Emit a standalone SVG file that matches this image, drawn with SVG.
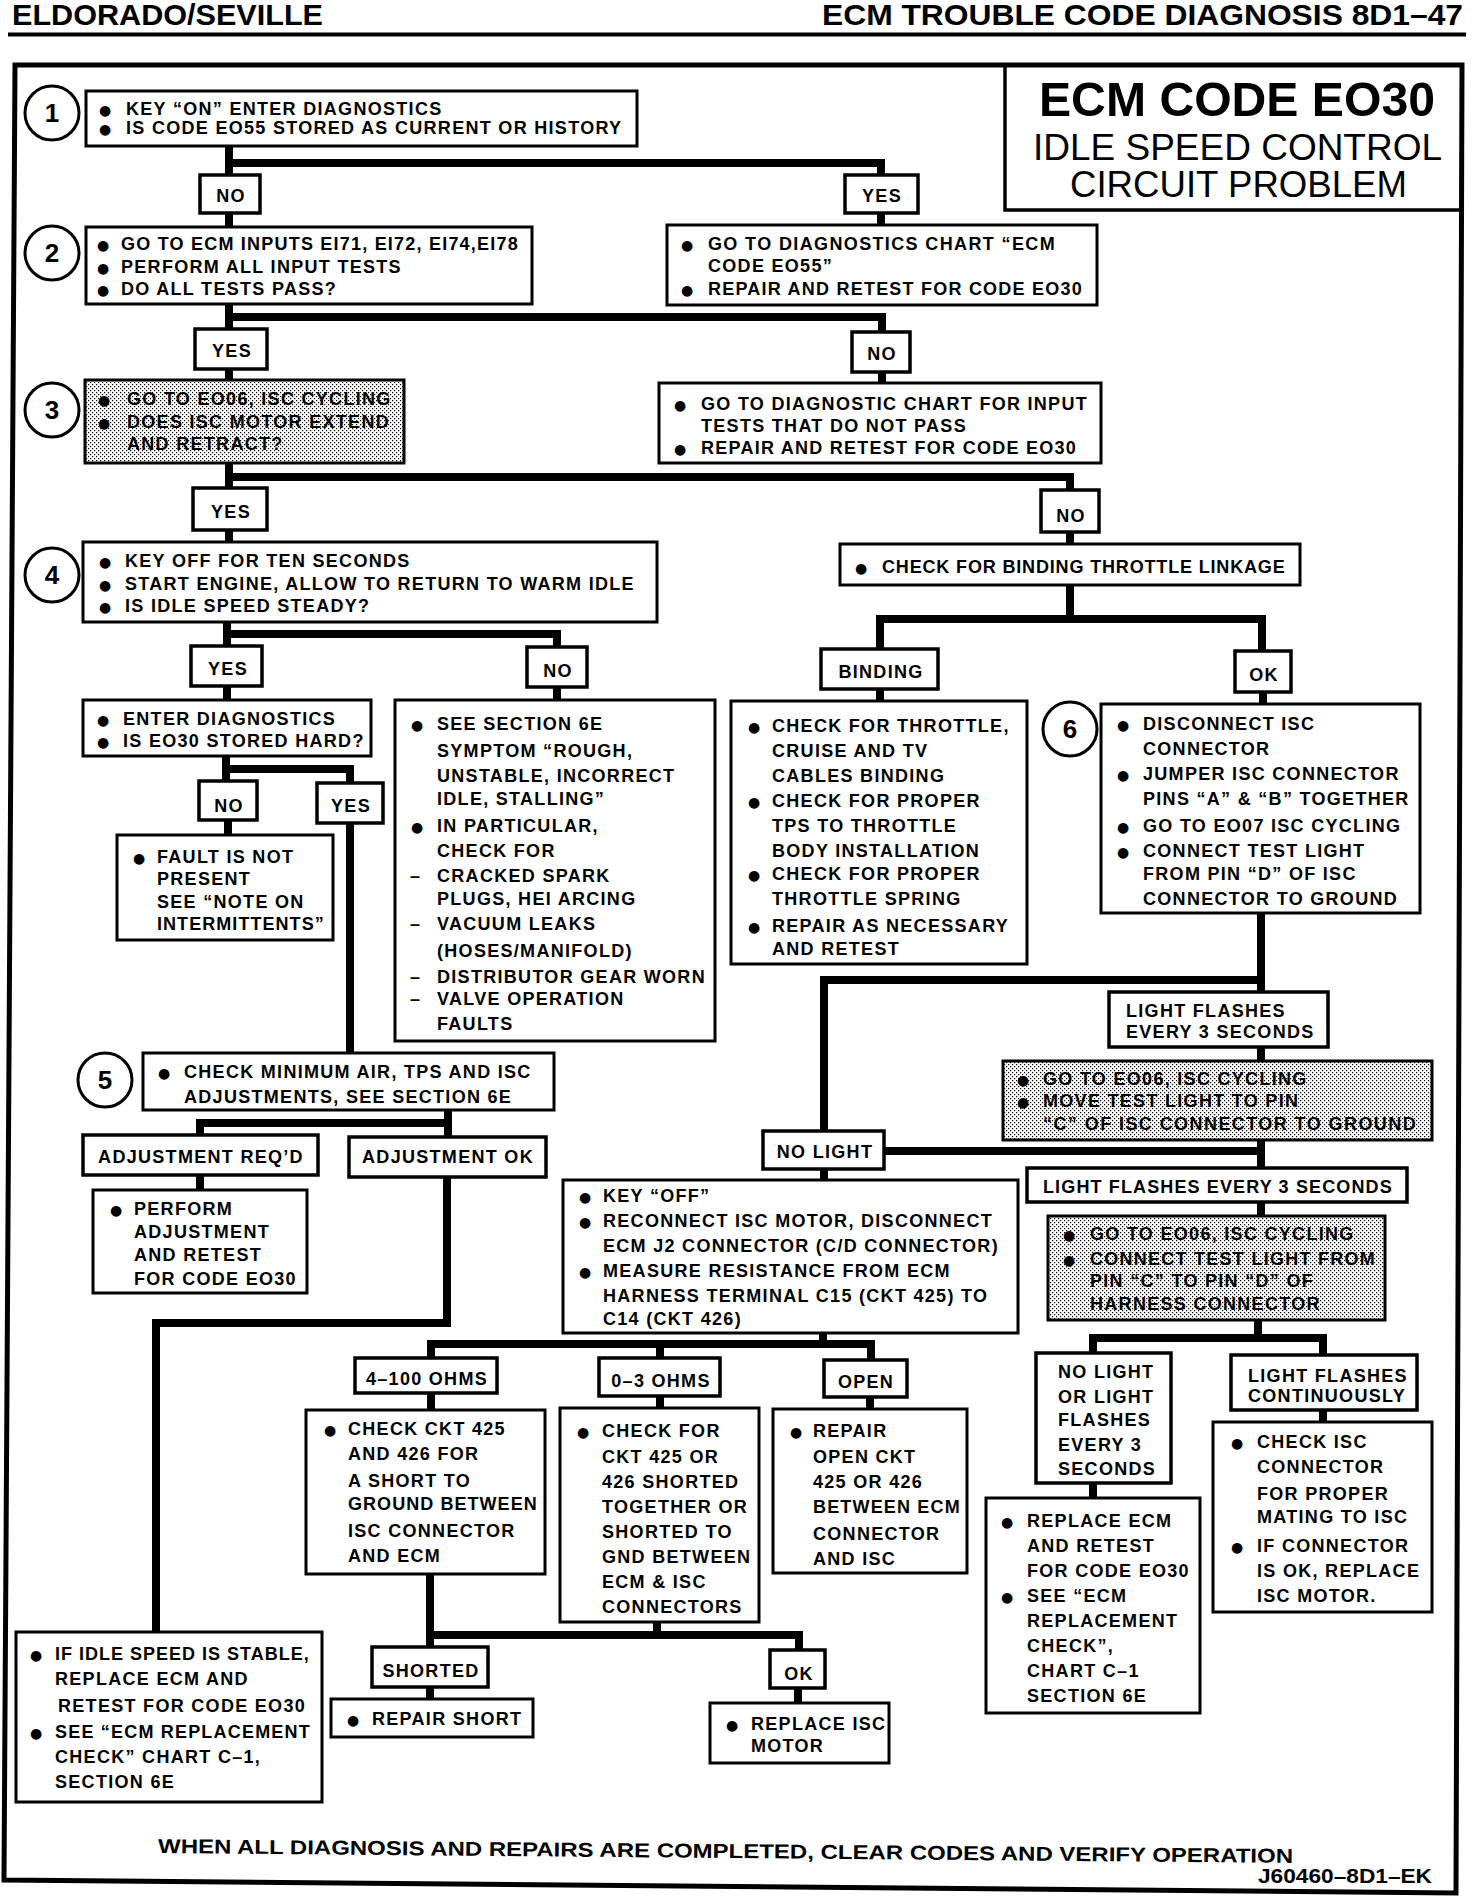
<svg xmlns="http://www.w3.org/2000/svg" width="1472" height="1904" viewBox="0 0 1472 1904">
<defs>
<pattern id="dots" width="4" height="4" patternUnits="userSpaceOnUse">
<rect width="4" height="4" fill="#fff"/>
<rect width="1.2" height="1.2" fill="#000"/>
<rect x="2" y="2" width="1.2" height="1.2" fill="#000"/>
</pattern>
<style>
.box{fill:#fff;stroke:#000;stroke-width:3}
.lbl{fill:#fff;stroke:#000;stroke-width:3.5}
.shade{fill:url(#dots);stroke:#000;stroke-width:3}
.t{font-family:"Liberation Sans",Arial,"DejaVu Sans",sans-serif;font-weight:bold;font-size:18px;letter-spacing:1.3px;fill:#000}
.b{font-family:"DejaVu Sans",sans-serif;font-size:14px;letter-spacing:0}
.c{text-anchor:middle}
.conn path{fill:none;stroke:#000;stroke-width:8;stroke-linecap:square;stroke-linejoin:miter}
.step circle{fill:#fff;stroke:#000;stroke-width:3}
.n{font-family:"Liberation Sans",Arial,sans-serif;font-weight:bold;font-size:26px;text-anchor:middle;fill:#000}
.hd{font-family:"Liberation Sans",Arial,sans-serif;font-weight:bold;font-size:30px;fill:#000}
.frame{fill:none;stroke:#000;stroke-width:5}
</style>
</defs>
<rect width="1472" height="1904" fill="#fff"/>

<g id="header">
<text class="hd" x="12" y="25" textLength="311" lengthAdjust="spacingAndGlyphs">ELDORADO/SEVILLE</text>
<text class="hd" x="822" y="25" textLength="641" lengthAdjust="spacingAndGlyphs">ECM TROUBLE CODE DIAGNOSIS 8D1–47</text>
<path d="M8,34.5 H1466" stroke="#000" stroke-width="4"/>
</g>

<path class="frame" d="M15,65 H1462 L1456,1893 L4,1880 Z"/>

<g id="title">
<path d="M1005,65 V210 H1462" fill="none" stroke="#000" stroke-width="3.5"/>
<text x="1237" y="116" text-anchor="middle" font-family="Liberation Sans, Arial, sans-serif" font-weight="bold" font-size="48" textLength="396" lengthAdjust="spacingAndGlyphs">ECM CODE EO30</text>
<text x="1237.5" y="160" text-anchor="middle" font-family="Liberation Sans, Arial, sans-serif" font-size="36" textLength="409" lengthAdjust="spacingAndGlyphs">IDLE SPEED CONTROL</text>
<text x="1238.5" y="197" text-anchor="middle" font-family="Liberation Sans, Arial, sans-serif" font-size="36" textLength="337" lengthAdjust="spacingAndGlyphs">CIRCUIT PROBLEM</text>
</g>

<g id="connectors" class="conn">
<path d="M229,146 V175"/>
<path d="M229,163 H881 V175"/>
<path d="M229,213 V227"/>
<path d="M881,213 V225"/>
<path d="M229,304 V329"/>
<path d="M229,317 H882 V332"/>
<path d="M229,369 V380"/>
<path d="M882,372 V383"/>
<path d="M229,463 V488"/>
<path d="M229,477 H1070 V490"/>
<path d="M229,530 V542"/>
<path d="M1070,532 V544"/>
<path d="M227,622 V646"/>
<path d="M227,634 H557 V647"/>
<path d="M227,686 V700"/>
<path d="M557,687 V700"/>
<path d="M226,756 V781"/>
<path d="M226,769 H350 V783"/>
<path d="M228,820 V835"/>
<path d="M350,823 V1053"/>
<path d="M448,1110 V1136"/>
<path d="M448,1123 H200 V1135"/>
<path d="M200,1175 V1190"/>
<path d="M447,1177 V1323 H156 V1632"/>
<path d="M1070,585 V619"/>
<path d="M880,649 V619 H1262 V651"/>
<path d="M880,689 V701"/>
<path d="M1263,692 V704"/>
<path d="M1261,913 V992"/>
<path d="M1261,980 H824 V1131"/>
<path d="M1261,1047 V1061"/>
<path d="M1261,1140 V1168"/>
<path d="M884,1151 H1261"/>
<path d="M1261,1202 V1216"/>
<path d="M1258,1320 V1338"/>
<path d="M1093,1353 V1338 H1323 V1355"/>
<path d="M1093,1483 V1498"/>
<path d="M1323,1410 V1422"/>
<path d="M824,1169 V1180"/>
<path d="M823,1333 V1344"/>
<path d="M431,1358 V1344 H871 V1360"/>
<path d="M660,1344 V1358"/>
<path d="M431,1393 V1410"/>
<path d="M660,1396 V1408"/>
<path d="M870,1397 V1409"/>
<path d="M430,1574 V1647"/>
<path d="M430,1635 H799 V1650"/>
<path d="M657,1622 V1635"/>
<path d="M430,1687 V1699"/>
<path d="M798,1688 V1703"/>
</g>

<g id="step1" class="step"><circle cx="52" cy="113" r="27"/><text class="n" x="52" y="122">1</text></g>
<g id="step2" class="step"><circle cx="52" cy="253" r="27"/><text class="n" x="52" y="262">2</text></g>
<g id="step3" class="step"><circle cx="52" cy="410" r="27"/><text class="n" x="52" y="419">3</text></g>
<g id="step4" class="step"><circle cx="52" cy="575" r="27"/><text class="n" x="52" y="584">4</text></g>
<g id="step5" class="step"><circle cx="105" cy="1080" r="27"/><text class="n" x="105" y="1089">5</text></g>
<g id="step6" class="step"><circle cx="1070" cy="729" r="27"/><text class="n" x="1070" y="738">6</text></g>

<g id="n1">
<rect class="box" x="86" y="91" width="551" height="55"/>
<text class="t" y="115"><tspan class="b" x="99">●</tspan><tspan x="126">KEY “ON” ENTER DIAGNOSTICS</tspan></text>
<text class="t" y="134"><tspan class="b" x="99">●</tspan><tspan x="126">IS CODE EO55 STORED AS CURRENT OR HISTORY</tspan></text>
</g>
<g id="l_no1"><rect class="lbl" x="200" y="175" width="60" height="38"/><text class="t c" x="231" y="202">NO</text></g>
<g id="l_yes1"><rect class="lbl" x="845" y="175" width="73" height="38"/><text class="t c" x="882" y="202">YES</text></g>

<g id="n2">
<rect class="box" x="86" y="227" width="446" height="77"/>
<text class="t" y="250"><tspan class="b" x="97">●</tspan><tspan x="121" textLength="398">GO TO ECM INPUTS EI71, EI72, EI74,EI78</tspan></text>
<text class="t" y="273"><tspan class="b" x="97">●</tspan><tspan x="121">PERFORM ALL INPUT TESTS</tspan></text>
<text class="t" y="295"><tspan class="b" x="97">●</tspan><tspan x="121">DO ALL TESTS PASS?</tspan></text>
</g>
<g id="n_eo55">
<rect class="box" x="667" y="225" width="430" height="80"/>
<text class="t" y="250"><tspan class="b" x="681">●</tspan><tspan x="708" textLength="348">GO TO DIAGNOSTICS CHART “ECM</tspan></text>
<text class="t" x="708" y="272">CODE EO55”</text>
<text class="t" y="295"><tspan class="b" x="681">●</tspan><tspan x="708" textLength="375">REPAIR AND RETEST FOR CODE EO30</tspan></text>
</g>
<g id="l_yes2"><rect class="lbl" x="195" y="329" width="72" height="40"/><text class="t c" x="232" y="357">YES</text></g>
<g id="l_no2"><rect class="lbl" x="852" y="332" width="58" height="40"/><text class="t c" x="882" y="360">NO</text></g>

<g id="n3">
<rect class="shade" x="85" y="380" width="319" height="83"/>
<text class="t" y="405"><tspan class="b" x="98">●</tspan><tspan x="127">GO TO  EO06, ISC CYCLING</tspan></text>
<text class="t" y="428"><tspan class="b" x="98">●</tspan><tspan x="127">DOES ISC MOTOR EXTEND</tspan></text>
<text class="t" x="127" y="450">AND RETRACT?</text>
</g>
<g id="n_input">
<rect class="box" x="659" y="383" width="442" height="80"/>
<text class="t" y="410"><tspan class="b" x="674">●</tspan><tspan x="701" textLength="387">GO TO DIAGNOSTIC CHART FOR INPUT</tspan></text>
<text class="t" x="701" y="432">TESTS THAT DO NOT PASS</text>
<text class="t" y="454"><tspan class="b" x="674">●</tspan><tspan x="701" textLength="376">REPAIR AND RETEST FOR CODE EO30</tspan></text>
</g>
<g id="l_yes3"><rect class="lbl" x="193" y="488" width="74" height="42"/><text class="t c" x="231" y="518">YES</text></g>
<g id="l_no3"><rect class="lbl" x="1041" y="490" width="58" height="42"/><text class="t c" x="1071" y="522">NO</text></g>

<g id="n4">
<rect class="box" x="83" y="542" width="574" height="80"/>
<text class="t" y="567"><tspan class="b" x="99">●</tspan><tspan x="125">KEY OFF FOR TEN SECONDS</tspan></text>
<text class="t" y="590"><tspan class="b" x="99">●</tspan><tspan x="125">START ENGINE, ALLOW TO RETURN TO WARM IDLE</tspan></text>
<text class="t" y="612"><tspan class="b" x="99">●</tspan><tspan x="125">IS IDLE SPEED STEADY?</tspan></text>
</g>
<g id="n_bind">
<rect class="box" x="840" y="544" width="460" height="41"/>
<text class="t" y="573"><tspan class="b" x="855">●</tspan><tspan x="882" textLength="404">CHECK FOR BINDING THROTTLE LINKAGE</tspan></text>
</g>
<g id="l_yes4"><rect class="lbl" x="191" y="646" width="71" height="40"/><text class="t c" x="228" y="675">YES</text></g>
<g id="l_no4"><rect class="lbl" x="527" y="647" width="60" height="40"/><text class="t c" x="558" y="677">NO</text></g>
<g id="l_binding"><rect class="lbl" x="821" y="649" width="117" height="40"/><text class="t c" x="881" y="678">BINDING</text></g>
<g id="l_ok1"><rect class="lbl" x="1235" y="651" width="56" height="41"/><text class="t c" x="1264" y="681">OK</text></g>

<g id="n_enter">
<rect class="box" x="83" y="700" width="288" height="56"/>
<text class="t" y="725"><tspan class="b" x="97">●</tspan><tspan x="123">ENTER DIAGNOSTICS</tspan></text>
<text class="t" y="747"><tspan class="b" x="97">●</tspan><tspan x="123">IS EO30 STORED HARD?</tspan></text>
</g>
<g id="n_see6e">
<rect class="box" x="395" y="700" width="320" height="341"/>
<text class="t" y="730"><tspan class="b" x="411">●</tspan><tspan x="437">SEE SECTION 6E</tspan></text>
<text class="t" x="437" y="757">SYMPTOM “ROUGH,</text>
<text class="t" x="437" y="782">UNSTABLE, INCORRECT</text>
<text class="t" x="437" y="805">IDLE, STALLING”</text>
<text class="t" y="832"><tspan class="b" x="411">●</tspan><tspan x="437">IN PARTICULAR,</tspan></text>
<text class="t" x="437" y="857">CHECK FOR</text>
<text class="t" y="882"><tspan x="410">–</tspan><tspan x="437">CRACKED SPARK</tspan></text>
<text class="t" x="437" y="905">PLUGS, HEI ARCING</text>
<text class="t" y="930"><tspan x="410">–</tspan><tspan x="437">VACUUM LEAKS</tspan></text>
<text class="t" x="437" y="957">(HOSES/MANIFOLD)</text>
<text class="t" y="983"><tspan x="410">–</tspan><tspan x="437">DISTRIBUTOR GEAR WORN</tspan></text>
<text class="t" y="1005"><tspan x="410">–</tspan><tspan x="437">VALVE OPERATION</tspan></text>
<text class="t" x="437" y="1030">FAULTS</text>
</g>
<g id="n_throttle">
<rect class="box" x="731" y="701" width="296" height="263"/>
<text class="t" y="732"><tspan class="b" x="748">●</tspan><tspan x="772">CHECK FOR THROTTLE,</tspan></text>
<text class="t" x="772" y="757">CRUISE AND TV</text>
<text class="t" x="772" y="782">CABLES BINDING</text>
<text class="t" y="807"><tspan class="b" x="748">●</tspan><tspan x="772">CHECK FOR PROPER</tspan></text>
<text class="t" x="772" y="832">TPS TO THROTTLE</text>
<text class="t" x="772" y="857">BODY INSTALLATION</text>
<text class="t" y="880"><tspan class="b" x="748">●</tspan><tspan x="772">CHECK FOR PROPER</tspan></text>
<text class="t" x="772" y="905">THROTTLE SPRING</text>
<text class="t" y="932"><tspan class="b" x="748">●</tspan><tspan x="772">REPAIR AS NECESSARY</tspan></text>
<text class="t" x="772" y="955">AND RETEST</text>
</g>
<g id="n6">
<rect class="box" x="1101" y="704" width="319" height="209"/>
<text class="t" y="730"><tspan class="b" x="1117">●</tspan><tspan x="1143">DISCONNECT ISC</tspan></text>
<text class="t" x="1143" y="755">CONNECTOR</text>
<text class="t" y="780"><tspan class="b" x="1117">●</tspan><tspan x="1143">JUMPER ISC CONNECTOR</tspan></text>
<text class="t" x="1143" y="805">PINS “A” &amp; “B” TOGETHER</text>
<text class="t" y="832"><tspan class="b" x="1117">●</tspan><tspan x="1143">GO TO EO07 ISC CYCLING</tspan></text>
<text class="t" y="857"><tspan class="b" x="1117">●</tspan><tspan x="1143">CONNECT TEST LIGHT</tspan></text>
<text class="t" x="1143" y="880">FROM PIN “D” OF ISC</text>
<text class="t" x="1143" y="905">CONNECTOR TO GROUND</text>
</g>

<g id="l_no5"><rect class="lbl" x="199" y="781" width="58" height="39"/><text class="t c" x="229" y="812">NO</text></g>
<g id="l_yes5"><rect class="lbl" x="317" y="783" width="66" height="40"/><text class="t c" x="351" y="812">YES</text></g>
<g id="n_fault">
<rect class="box" x="117" y="835" width="216" height="105"/>
<text class="t" y="863"><tspan class="b" x="133">●</tspan><tspan x="157">FAULT IS NOT</tspan></text>
<text class="t" x="157" y="885">PRESENT</text>
<text class="t" x="157" y="908">SEE “NOTE ON</text>
<text class="t" x="157" y="930" textLength="168">INTERMITTENTS”</text>
</g>

<g id="n5">
<rect class="box" x="143" y="1053" width="411" height="57"/>
<text class="t" y="1078"><tspan class="b" x="158">●</tspan><tspan x="184">CHECK MINIMUM AIR, TPS AND ISC</tspan></text>
<text class="t" x="184" y="1103">ADJUSTMENTS, SEE SECTION 6E</text>
</g>
<g id="l_adjreq"><rect class="lbl" x="83" y="1135" width="235" height="40"/><text class="t c" x="201" y="1163">ADJUSTMENT REQ’D</text></g>
<g id="l_adjok"><rect class="lbl" x="349" y="1137" width="197" height="40"/><text class="t c" x="448" y="1163">ADJUSTMENT OK</text></g>
<g id="n_perform">
<rect class="box" x="93" y="1190" width="214" height="103"/>
<text class="t" y="1215"><tspan class="b" x="110">●</tspan><tspan x="134">PERFORM</tspan></text>
<text class="t" x="134" y="1238">ADJUSTMENT</text>
<text class="t" x="134" y="1261">AND RETEST</text>
<text class="t" x="134" y="1285">FOR CODE EO30</text>
</g>

<g id="l_lf2">
<rect class="lbl" x="1109" y="992" width="219" height="55"/>
<text class="t" x="1126" y="1017">LIGHT FLASHES</text>
<text class="t" x="1126" y="1038">EVERY 3 SECONDS</text>
</g>
<g id="n_shade2">
<rect class="shade" x="1003" y="1061" width="429" height="79"/>
<text class="t" y="1085"><tspan class="b" x="1017">●</tspan><tspan x="1043">GO TO EO06, ISC CYCLING</tspan></text>
<text class="t" y="1107"><tspan class="b" x="1017">●</tspan><tspan x="1043">MOVE TEST LIGHT TO PIN</tspan></text>
<text class="t" x="1043" y="1130" textLength="374">“C” OF ISC CONNECTOR TO GROUND</text>
</g>
<g id="l_nolight"><rect class="lbl" x="763" y="1131" width="121" height="38"/><text class="t c" x="825" y="1158">NO LIGHT</text></g>
<g id="l_lf1"><rect class="lbl" x="1027" y="1168" width="380" height="34"/><text class="t" x="1043" y="1193" textLength="350">LIGHT FLASHES EVERY 3 SECONDS</text></g>
<g id="n_keyoff">
<rect class="box" x="563" y="1180" width="455" height="153"/>
<text class="t" y="1202"><tspan class="b" x="579">●</tspan><tspan x="603">KEY “OFF”</tspan></text>
<text class="t" y="1227"><tspan class="b" x="579">●</tspan><tspan x="603">RECONNECT ISC MOTOR, DISCONNECT</tspan></text>
<text class="t" x="603" y="1252">ECM J2 CONNECTOR (C/D CONNECTOR)</text>
<text class="t" y="1277"><tspan class="b" x="579">●</tspan><tspan x="603">MEASURE RESISTANCE FROM ECM</tspan></text>
<text class="t" x="603" y="1302">HARNESS TERMINAL C15 (CKT 425) TO</text>
<text class="t" x="603" y="1325">C14 (CKT 426)</text>
</g>
<g id="n_shade3">
<rect class="shade" x="1048" y="1216" width="337" height="104"/>
<text class="t" y="1240"><tspan class="b" x="1063">●</tspan><tspan x="1090">GO TO EO06, ISC CYCLING</tspan></text>
<text class="t" y="1265"><tspan class="b" x="1063">●</tspan><tspan x="1090" textLength="286">CONNECT TEST LIGHT FROM</tspan></text>
<text class="t" x="1090" y="1287">PIN “C” TO PIN “D” OF</text>
<text class="t" x="1090" y="1310">HARNESS CONNECTOR</text>
</g>

<g id="l_4100"><rect class="lbl" x="355" y="1358" width="142" height="35"/><text class="t c" x="427" y="1385">4–100 OHMS</text></g>
<g id="l_03"><rect class="lbl" x="599" y="1358" width="121" height="38"/><text class="t c" x="661" y="1387">0–3 OHMS</text></g>
<g id="l_open"><rect class="lbl" x="824" y="1360" width="83" height="37"/><text class="t c" x="866" y="1388">OPEN</text></g>

<g id="n_ckt425">
<rect class="box" x="306" y="1410" width="239" height="164"/>
<text class="t" y="1435"><tspan class="b" x="324">●</tspan><tspan x="348">CHECK CKT 425</tspan></text>
<text class="t" x="348" y="1460">AND 426 FOR</text>
<text class="t" x="348" y="1487">A SHORT TO</text>
<text class="t" x="348" y="1510" textLength="190">GROUND BETWEEN</text>
<text class="t" x="348" y="1537">ISC CONNECTOR</text>
<text class="t" x="348" y="1562">AND ECM</text>
</g>
<g id="n_checkfor">
<rect class="box" x="560" y="1408" width="199" height="214"/>
<text class="t" y="1437"><tspan class="b" x="577">●</tspan><tspan x="602">CHECK FOR</tspan></text>
<text class="t" x="602" y="1463">CKT 425 OR</text>
<text class="t" x="602" y="1488">426 SHORTED</text>
<text class="t" x="602" y="1513">TOGETHER OR</text>
<text class="t" x="602" y="1538">SHORTED TO</text>
<text class="t" x="602" y="1563">GND BETWEEN</text>
<text class="t" x="602" y="1588">ECM &amp; ISC</text>
<text class="t" x="602" y="1613">CONNECTORS</text>
</g>
<g id="n_repairopen">
<rect class="box" x="773" y="1409" width="194" height="164"/>
<text class="t" y="1437"><tspan class="b" x="790">●</tspan><tspan x="813">REPAIR</tspan></text>
<text class="t" x="813" y="1463">OPEN CKT</text>
<text class="t" x="813" y="1488">425 OR 426</text>
<text class="t" x="813" y="1513" textLength="148">BETWEEN ECM</text>
<text class="t" x="813" y="1540">CONNECTOR</text>
<text class="t" x="813" y="1565">AND ISC</text>
</g>

<g id="l_nolight2">
<rect class="lbl" x="1036" y="1353" width="135" height="130"/>
<text class="t" x="1058" y="1378">NO LIGHT</text>
<text class="t" x="1058" y="1403">OR LIGHT</text>
<text class="t" x="1058" y="1426">FLASHES</text>
<text class="t" x="1058" y="1451">EVERY 3</text>
<text class="t" x="1058" y="1475">SECONDS</text>
</g>
<g id="l_lfcont">
<rect class="lbl" x="1231" y="1355" width="186" height="55"/>
<text class="t" x="1248" y="1382">LIGHT FLASHES</text>
<text class="t" x="1248" y="1402">CONTINUOUSLY</text>
</g>
<g id="n_replaceecm">
<rect class="box" x="986" y="1498" width="214" height="215"/>
<text class="t" y="1527"><tspan class="b" x="1001">●</tspan><tspan x="1027">REPLACE ECM</tspan></text>
<text class="t" x="1027" y="1552">AND RETEST</text>
<text class="t" x="1027" y="1577">FOR CODE EO30</text>
<text class="t" y="1602"><tspan class="b" x="1001">●</tspan><tspan x="1027">SEE “ECM</tspan></text>
<text class="t" x="1027" y="1627">REPLACEMENT</text>
<text class="t" x="1027" y="1652">CHECK”,</text>
<text class="t" x="1027" y="1677">CHART C–1</text>
<text class="t" x="1027" y="1702">SECTION 6E</text>
</g>
<g id="n_checkisc">
<rect class="box" x="1213" y="1422" width="219" height="190"/>
<text class="t" y="1448"><tspan class="b" x="1231">●</tspan><tspan x="1257">CHECK ISC</tspan></text>
<text class="t" x="1257" y="1473">CONNECTOR</text>
<text class="t" x="1257" y="1500">FOR PROPER</text>
<text class="t" x="1257" y="1523">MATING TO ISC</text>
<text class="t" y="1552"><tspan class="b" x="1231">●</tspan><tspan x="1257">IF CONNECTOR</tspan></text>
<text class="t" x="1257" y="1577">IS OK, REPLACE</text>
<text class="t" x="1257" y="1602">ISC MOTOR.</text>
</g>

<g id="n_ifidle">
<rect class="box" x="16" y="1632" width="306" height="170"/>
<text class="t" y="1660"><tspan class="b" x="30">●</tspan><tspan x="55" textLength="255">IF IDLE SPEED IS STABLE,</tspan></text>
<text class="t" x="55" y="1685">REPLACE ECM AND</text>
<text class="t" x="58" y="1712">RETEST FOR CODE EO30</text>
<text class="t" y="1738"><tspan class="b" x="30">●</tspan><tspan x="55" textLength="256">SEE “ECM REPLACEMENT</tspan></text>
<text class="t" x="55" y="1763">CHECK” CHART C–1,</text>
<text class="t" x="55" y="1788">SECTION 6E</text>
</g>
<g id="l_shorted"><rect class="lbl" x="372" y="1647" width="116" height="40"/><text class="t c" x="431" y="1677">SHORTED</text></g>
<g id="l_ok2"><rect class="lbl" x="770" y="1650" width="55" height="38"/><text class="t c" x="799" y="1680">OK</text></g>
<g id="n_repairshort">
<rect class="box" x="331" y="1699" width="202" height="38"/>
<text class="t" y="1725"><tspan class="b" x="347">●</tspan><tspan x="372">REPAIR SHORT</tspan></text>
</g>
<g id="n_replaceisc">
<rect class="box" x="710" y="1703" width="179" height="60"/>
<text class="t" y="1730"><tspan class="b" x="726">●</tspan><tspan x="751">REPLACE ISC</tspan></text>
<text class="t" x="751" y="1752">MOTOR</text>
</g>

<g id="footer">
<text x="158" y="1853" transform="rotate(0.5 158 1853)" font-family="Liberation Sans, Arial, sans-serif" font-weight="bold" font-size="20" textLength="1135" lengthAdjust="spacingAndGlyphs">WHEN ALL DIAGNOSIS AND REPAIRS ARE COMPLETED, CLEAR CODES AND VERIFY OPERATION</text>
<text x="1258" y="1883" font-family="Liberation Sans, Arial, sans-serif" font-weight="bold" font-size="21" textLength="174" lengthAdjust="spacingAndGlyphs">J60460–8D1–EK</text>
</g>
</svg>
